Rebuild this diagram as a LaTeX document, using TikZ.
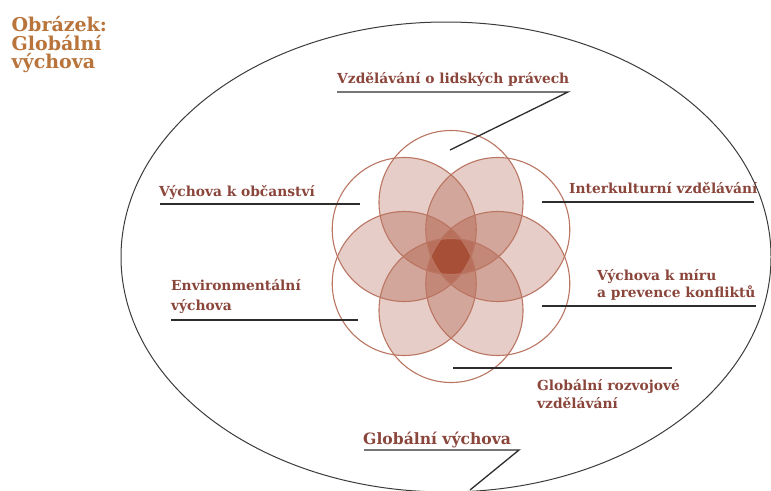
\documentclass[tikz,border=0pt]{standalone}
\usepackage{fontspec}
\setmainfont{DejaVu Serif}
\usetikzlibrary{calc}
\definecolor{lblc}{RGB}{139,70,60}
\definecolor{titc}{RGB}{184,116,58}
\definecolor{ptrc}{RGB}{45,45,45}
\definecolor{ellc}{RGB}{60,60,60}
\definecolor{ringc}{RGB}{186,118,98}
\definecolor{petalc}{RGB}{145,30,0}
\begin{document}
\begin{tikzpicture}[x=1pt,y=-1pt,
  lbl/.style={font=\bfseries\fontsize{13.8}{16}\selectfont, text=lblc, inner sep=0pt, anchor=base west},
  biglbl/.style={font=\bfseries\fontsize{15.6}{18}\selectfont, text=lblc, inner sep=0pt, anchor=base west},
  titl/.style={font=\bfseries\fontsize{19}{18}\selectfont, text=titc, inner sep=0pt, anchor=base west},
  ptr/.style={draw=ptrc, line width=1.3pt},
  ring/.style={draw=ringc, line width=1.1pt},
  petal/.style={fill=petalc, fill opacity=0.22},
  ell/.style={draw=ellc, line width=1pt}]
\useasboundingbox (0,0) rectangle (771,490);
\fill[white] (0,0) rectangle (771,490);

% outer ellipse
\coordinate (E) at (446,257);
\draw[ell] (E) ellipse[x radius=325pt, y radius=235pt];

% flower
\coordinate (C) at (451,256.5);
\foreach \a [count=\i] in {90,150,210,270,330,30}
  \coordinate (c\i) at ($(C)+(\a:54)$);
\foreach \i/\j in {1/2,2/3,3/4,4/5,5/6,6/1}{
  \begin{scope}
    \clip (c\i) circle[radius=72pt];
    \fill[petal] (c\j) circle[radius=72pt];
  \end{scope}
}
\foreach \i in {1,...,6}
  \draw[ring] (c\i) circle[radius=72pt];

% title
\node[titl] (t1) at (11.5,31.7) {Obrázek:};
\node[titl] (t2) at (11.5,50) {Globální};
\node[titl] (t3) at (11.5,68.3) {výchova};

% Vzdělávání o lidských právech
\node[lbl] (hr) at (337,83.3) {Vzdělávání o lidských právech};
\coordinate (hrA) at (337,92);
\coordinate (hrB) at (568,92);
\coordinate (hrC) at (450,150);
\draw[ptr] (hrA) -- (hrB) -- (hrC);

% Výchova k občanství
\node[lbl] (ob) at (159,196) {Výchova k občanství};
\coordinate (obA) at (160,204);
\coordinate (obB) at (360,204);
\draw[ptr] (obA) -- (obB);

% Environmentální výchova
\node[lbl] (en1) at (171,290.5) {Environmentální};
\node[lbl] (en2) at (171,310.5) {výchova};
\coordinate (enA) at (171,320);
\coordinate (enB) at (358,320);
\draw[ptr] (enA) -- (enB);

% Interkulturní vzdělávání
\node[lbl] (ik) at (569,193) {Interkulturní vzdělávání};
\coordinate (ikA) at (542,202);
\coordinate (ikB) at (754,202);
\draw[ptr] (ikA) -- (ikB);

% Výchova k míru
\node[lbl] (mi1) at (597,280.7) {Výchova k míru};
\node[lbl] (mi2) at (597,297.5) {a prevence konfliktů};
\coordinate (miA) at (542,306);
\coordinate (miB) at (756,306);
\draw[ptr] (miA) -- (miB);

% Globální rozvojové vzdělávání
\coordinate (grA) at (453,368);
\coordinate (grB) at (672,368);
\draw[ptr] (grA) -- (grB);
\node[lbl] (gr1) at (537,390) {Globální rozvojové};
\node[lbl] (gr2) at (537,408.3) {vzdělávání};

% Globální výchova
\node[biglbl] (gv) at (363,444) {Globální výchova};
\coordinate (gvA) at (364,450);
\coordinate (gvB) at (519,450);
\coordinate (gvC) at (470,490);
\draw[ptr] (gvA) -- (gvB) -- (gvC);
\end{tikzpicture}
\end{document}
